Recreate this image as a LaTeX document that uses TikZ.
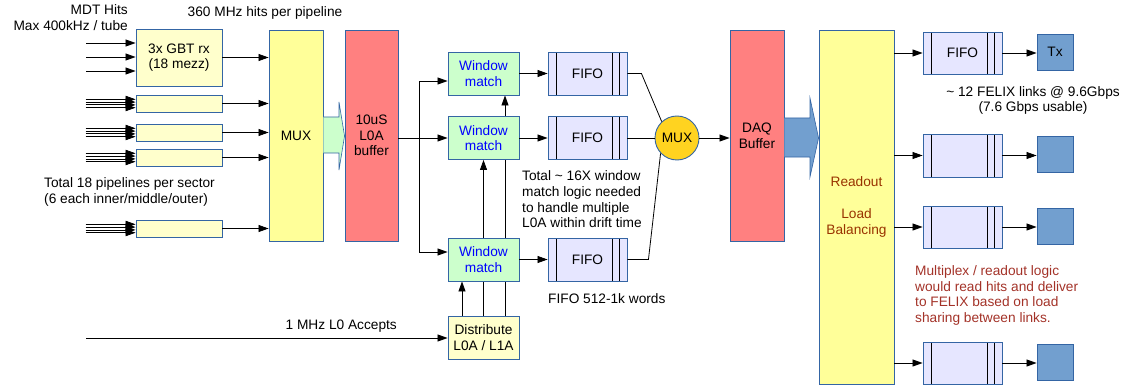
\documentclass[tikz,border=0pt]{standalone}
\usepackage{fontspec}
\setmainfont{Liberation Sans}
\usetikzlibrary{arrows.meta,backgrounds}
\definecolor{bord}{RGB}{52,101,164}
\definecolor{yelA}{RGB}{255,255,153}
\definecolor{yelB}{RGB}{255,255,204}
\definecolor{redA}{RGB}{255,128,128}
\definecolor{grnA}{RGB}{204,255,204}
\definecolor{lavA}{RGB}{230,230,255}
\definecolor{goldA}{RGB}{255,211,32}
\definecolor{bluA}{RGB}{114,159,207}
\definecolor{brwn}{RGB}{153,51,0}
\definecolor{dred}{RGB}{163,50,40}
\tikzset{
  box/.style={draw=bord, line width=0.9pt, inner sep=0pt, align=center},
  ybox/.style={box, fill=yelA},
  lybox/.style={box, fill=yelB},
  rbox/.style={box, fill=redA},
  wmbox/.style={box, fill=grnA, text=blue, minimum width=71pt, minimum height=43pt},
  fifobox/.style={box, fill=lavA, minimum width=79pt, minimum height=43pt,
    path picture={
      \draw[black, line width=0.9pt]
        ([xshift=8pt]path picture bounding box.south west) -- ([xshift=8pt]path picture bounding box.north west)
        ([xshift=-15pt]path picture bounding box.south east) -- ([xshift=-15pt]path picture bounding box.north east)
        ([xshift=-8pt]path picture bounding box.south east) -- ([xshift=-8pt]path picture bounding box.north east);
    }},
  txbox/.style={box, fill=bluA, minimum width=36pt, minimum height=36pt},
  arr/.style={-{Triangle[length=10pt,width=7pt]}, line width=0.8pt},
  ln/.style={line width=0.8pt},
}
\begin{document}
\begin{tikzpicture}[x=1pt,y=-1pt, every node/.style={inner sep=0pt, font=\fontsize{13.7}{15.7}\selectfont}]
\useasboundingbox (0,0) rectangle (1124,385);

% input stage
\node[lybox, minimum width=86pt, minimum height=57pt] (gbt) at (179,57.5) {3x GBT rx\\(18 mezz)};
\node[lybox, minimum width=86pt, minimum height=17pt] (p1) at (179,103.5) {};
\node[lybox, minimum width=86pt, minimum height=17pt] (p2) at (179,132.5) {};
\node[lybox, minimum width=86pt, minimum height=17pt] (p3) at (179,157.5) {};
\node[lybox, minimum width=86pt, minimum height=17pt] (p4) at (179,228.5) {};
\node[ybox, minimum width=54pt, minimum height=211pt] (mux) at (296,135.5) {MUX};
\node[rbox, minimum width=53pt, minimum height=211pt] (buf) at (371.5,135.5) {10uS\\L0A\\buffer};

% window match / fifo
\node[wmbox] (wm1) at (483.5,73.5) {Window\\match};
\node[wmbox] (wm2) at (483.5,138) {Window\\match};
\node[wmbox] (wm3) at (483.5,259.5) {Window\\match};
\node[fifobox] (f1) at (587.5,73.5) {FIFO};
\node[fifobox] (f2) at (587.5,138) {FIFO};
\node[fifobox] (f3) at (587.5,259.5) {FIFO};
\node[circle, draw=bord, line width=0.9pt, fill=goldA, minimum size=44pt, inner sep=0pt] (muxc) at (677,138) {MUX};
\node[lybox, minimum width=71pt, minimum height=43pt] (dist) at (483.5,337.5) {Distribute\\L0A / L1A};

% output stage
\node[rbox, minimum width=54pt, minimum height=211pt] (daq) at (757,135.5) {DAQ\\Buffer};
\node[ybox, text=brwn, minimum width=75pt, minimum height=354pt] (ro) at (856.5,207) {Readout\\[15.7pt]Load\\Balancing};
\node[fifobox, minimum height=42pt] (r1) at (962.5,53) {FIFO};
\node[fifobox] (r2) at (962.5,155.5) {};
\node[fifobox, minimum height=42pt] (r3) at (962.5,227) {};
\node[fifobox, minimum height=42pt] (r4) at (962.5,363) {};
\node[txbox] (t1) at (1055,52) {Tx};
\node[txbox] (t2) at (1055,154.5) {};
\node[txbox] (t3) at (1055,226) {};
\node[txbox] (t4) at (1055,362) {};

% fat arrows
\draw[draw=bord, line width=0.6pt, fill=grnA] (mux.east |- 0,117) -- (339,117) -- (339,102) -- (buf.west |- 0,136) -- (339,170) -- (339,153) -- (mux.east |- 0,153) ;
\draw[draw=bord, line width=0.6pt, fill=bluA] (daq.east |- 0,118) -- (810,118) -- (810,98) -- (ro.west |- 0,138) -- (810,177) -- (810,157) -- (daq.east |- 0,157);

% texts
\node[anchor=east, align=right] (mdt) at (128,17.5) {MDT Hits\\Max 400kHz / tube};
\node (rate) at (265,13) {360 MHz hits per pipeline};
\node[anchor=west, align=left] (tot) at (44,192) {Total 18 pipelines per sector\\(6 each inner/middle/outer)};
\node[anchor=east] (l0lbl) at (397,326) {1 MHz L0 Accepts};
\node[anchor=west, align=left] (wmnote) at (522,199.5) {Total \textasciitilde{} 16X window\\match logic needed\\to handle multiple\\L0A within drift time};
\node[anchor=west] (fifonote) at (548,299) {FIFO 512-1k words};
\node[align=center] (felix) at (1033,100.5) {\textasciitilde{} 12 FELIX links @ 9.6Gbps\\(7.6 Gbps usable)};
\node[anchor=west, align=left, text=dred] (mplx) at (915,295.5) {Multiplex / readout logic\\would read hits and deliver\\to FELIX based on load\\sharing between links.};

% connectors
\coordinate (i1) at (86,43);
\coordinate (i2) at (86,57);
\coordinate (i3) at (86,71);
\foreach \c in {i1,i2,i3} \draw[arr] (\c) -- (\c -| gbt.west);
\foreach \b in {p1,p2,p3,p4} {
  \foreach \d in {-4.2,-1.4,1.4,4.2} {
    \draw[arr] ([yshift=\d pt]\b.west) ++(-50,0) coordinate (tmp) -- ([yshift=\d pt]\b.west);
  }
}
\foreach \b in {gbt,p1,p2,p3,p4} \draw[arr] (\b.east) -- (\b.east -| mux.west);

\coordinate (split) at (419,138);
\draw[ln] (buf.east |- split) -- (split);
\draw[arr] (split) -- (wm2.west);
\draw[arr] (split) |- ([yshift=-7.5pt]wm1.west);
\draw[arr] (split) |- ([yshift=7.5pt]wm3.west);
\draw[arr] (wm1.east) -- (f1.west);
\draw[arr] (wm2.east) -- (f2.west);
\draw[arr] (wm3.east) -- (f3.west);
\draw[ln] (f1.east) -- ++(14,0) -- (muxc.133);
\draw[ln] (f2.east) -- (muxc.west);
\draw[ln] (f3.east) -- ++(21,0) -- (muxc.223);
\draw[arr] (muxc.east) -- (muxc.east -| daq.west);

\coordinate (l0in) at (86,338);
\draw[arr] (l0in) -- (l0in -| dist.west);
\begin{scope}[on background layer]
\draw[arr] ([xshift=-21.5pt]dist.north) -- ([xshift=-21.5pt]wm3.south);
\draw[arr] (dist.north) -- (wm2.south);
\draw[arr] ([xshift=21.5pt]dist.north) -- ([xshift=21.5pt]wm1.south);
\end{scope}

\foreach \r/\t in {r1/t1,r2/t2,r3/t3,r4/t4} {
  \draw[arr] (\r.west -| ro.east) -- (\r.west);
  \draw[arr] (\r.east) -- (\r.east -| \t.west);
}
\end{tikzpicture}
\end{document}
